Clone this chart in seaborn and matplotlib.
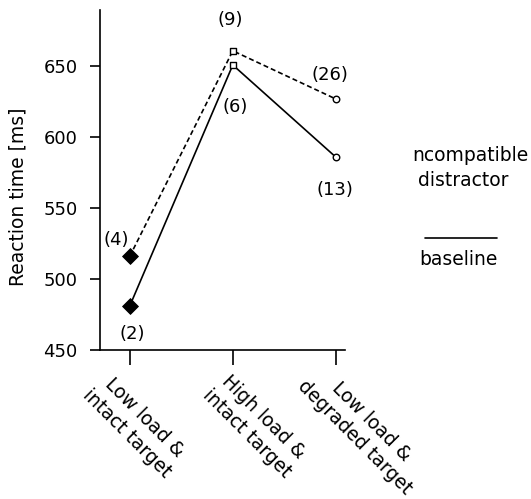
import matplotlib
matplotlib.use("Agg")
import matplotlib.pyplot as plt
import matplotlib.transforms as mtransforms
import seaborn as sns
import pandas as pd
from matplotlib.lines import Line2D

conditions = ["Low load &\nintact target", "High load &\nintact target", "Low load &\ndegraded target"]
baseline_rt = [481, 651, 586]
incompatible_rt = [516, 661, 627]
baseline_n = ["(2)", "(6)", "(13)"]
incompatible_n = ["(4)", "(9)", "(26)"]
yticks = [450, 500, 550, 600, 650]

sns.set_style("ticks")
plt.rcParams["font.family"] = ["DejaVu Sans"]
plt.rcParams["text.color"] = "black"
plt.rcParams["axes.labelcolor"] = "black"
plt.rcParams["xtick.color"] = "black"
plt.rcParams["ytick.color"] = "black"

rows = []
for i, c in enumerate(conditions):
    rows.append({"pos": i, "cond": c, "rt": baseline_rt[i], "series": "baseline"})
    rows.append({"pos": i, "cond": c, "rt": incompatible_rt[i], "series": "incompatible"})
df = pd.DataFrame(rows)

fig = plt.figure(figsize=(5.31, 4.99), dpi=100)
ax = fig.add_axes([0.188, 0.2986, 0.462, 0.682])

sns.lineplot(data=df, x="pos", y="rt", style="series",
             dashes={"baseline": "", "incompatible": (3, 1.8)},
             color="black", linewidth=1.2, legend=False, ax=ax)

marker_for = ["D", "s", "o"]
for i, c in enumerate(conditions):
    sub = df[df["cond"] == c]
    if i == 0:
        sns.scatterplot(data=sub, x="pos", y="rt", marker="D", s=65,
                        color="black", edgecolor="black", ax=ax, legend=False, zorder=3)
    else:
        sns.scatterplot(data=sub, x="pos", y="rt", marker=marker_for[i], s=22,
                        facecolor="white", edgecolor="black", linewidth=1.0,
                        ax=ax, legend=False, zorder=3)

# count annotations
inc_off = [(-10, 12), (-2, 22), (-4, 17)]
base_off = [(2, -20), (2, -30), (-1, -24)]
for i in range(3):
    ax.annotate(incompatible_n[i], (i, incompatible_rt[i]), xytext=inc_off[i],
                textcoords="offset points", ha="center", va="center", fontsize=13)
    ax.annotate(baseline_n[i], (i, baseline_rt[i]), xytext=base_off[i],
                textcoords="offset points", ha="center", va="center", fontsize=13)

ax.set_xlim(-0.29, 2.09)
ax.set_ylim(450, 690)
ax.set_yticks(yticks)
ax.set_yticklabels([str(v) for v in yticks], fontsize=13)
ax.set_xticks([0, 1, 2])
ax.set_xticklabels(conditions, rotation=-45, fontsize=13.5, linespacing=1.3)
ax.tick_params(axis="x", length=11, width=1.2, pad=3)
ax.tick_params(axis="y", length=7, width=1.2, pad=9)
ax.set_xlabel("")
ax.set_ylabel("Reaction time [ms]", fontsize=13.5)
ax.yaxis.set_label_coords(-0.294, 0.45)
sns.despine(ax=ax)
for s in ["left", "bottom"]:
    ax.spines[s].set_linewidth(1.2)
    ax.spines[s].set_color("black")

# per-label shifts (pixels) as in reference
shifts_px = [(6, 0), (22, 0), (27, 9)]
for lab, (dx, dy) in zip(ax.get_xticklabels(), shifts_px):
    lab.set_transform(lab.get_transform() +
                      mtransforms.ScaledTranslation(dx / 100, dy / 100, fig.dpi_scale_trans))

# legend (as in reference)
fig.text(0.885, 0.689, "ncompatible", ha="center", va="center", fontsize=13.5)
fig.text(0.872, 0.639, "distractor", ha="center", va="center", fontsize=13.5)
fig.add_artist(Line2D([0.800, 0.936], [0.523, 0.523], color="black", lw=1.2,
                      transform=fig.transFigure))
fig.text(0.863, 0.479, "baseline", ha="center", va="center", fontsize=13.5)

fig.savefig("out.png", dpi=100)
